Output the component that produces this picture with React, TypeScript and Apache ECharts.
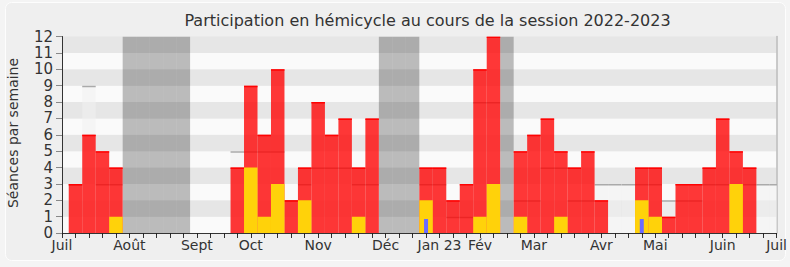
import React, { useEffect, useRef } from "react";
import * as echarts from "echarts";

// Week indices 0..53 (Juil 2022 -> Juil 2023)
const presence = [0, 3, 6, 5, 4, 0, 0, 0, 0, 0, 0, 0, 0, 4, 9, 6, 10, 2, 4, 8, 6, 7, 4, 7, 0, 0, 0, 4, 4, 2, 3, 10, 12, 0, 5, 6, 7, 5, 4, 5, 2, 0, 0, 4, 4, 1, 3, 3, 4, 7, 5, 4, 0, 0];
const interventions = [0, 0, 0, 0, 1, 0, 0, 0, 0, 0, 0, 0, 0, 0, 4, 1, 3, 0, 2, 0, 0, 0, 1, 0, 0, 0, 0, 2, 0, 0, 0, 1, 3, 0, 1, 0, 0, 1, 0, 0, 0, 0, 0, 2, 1, 0, 0, 0, 0, 0, 3, 0, 0, 0];
const questions = [0, 0, 0, 0, 0, 0, 0, 0, 0, 0, 0, 0, 0, 0, 0, 0, 0, 0, 0, 0, 0, 0, 0, 0, 0, 0, 0, 0.85, 0, 0, 0, 0, 0, 0, 0, 0, 0, 0, 0, 0, 0, 0, 0, 0.85, 0, 0, 0, 0, 0, 0, 0, 0, 0, 0];
const medianPresence = [0, 3, 9, 3, 3, 0, 0, 0, 0, 0, 0, 0, 0, 5, 5, 5, 5, 2, 3, 4, 4, 4, 3, 3, 0, 0, 0, 3, 3, 1, 1, 8, 8, 0, 2, 2, 4, 4, 2, 2, 3, 3, 3, 3, 3, 2, 2, 2, 3, 3, 3, 3, 3, 3];
const vacationWeeks = [5, 6, 7, 8, 9, 24, 25, 26, 33];
const vacationHeight = 12;
const monthLabels = ["Juil", "Août", "Sept", "Oct", "Nov", "Déc", "Jan 23", "Fév", "Mar", "Avr", "Mai", "Juin", "Juil"];
const monthLabelWeeks = [0, 5, 10, 14, 19, 24, 28, 31, 35, 40, 44, 49, 53];
const yTicks = [0, 12, 1]; // min, max, interval

const TITLE = "Participation en hémicycle au cours de la session 2022-2023";
const Y_NAME = "Séances par semaine";
const FONT = "DejaVu Sans";

const weeks = presence.map((_, i) => String(i));

function makeRender(fill: string, topLine: string | null, fixedWidth: number | null) {
  return (params: any, api: any) => {
    const i = api.value(0);
    const v = api.value(1);
    if (!v) return null;
    const base = api.coord([i, 0]);
    const top = api.coord([i, v]);
    const bw = api.size([1, 0])[0];
    const w = fixedWidth ?? bw;
    const x = base[0] - w / 2;
    const children: any[] = [
      {
        type: "rect",
        shape: { x, y: top[1], width: w, height: base[1] - top[1] },
        style: { fill },
      },
    ];
    if (topLine) {
      children.push({
        type: "line",
        shape: { x1: x, y1: top[1] + 0.75, x2: x + w, y2: top[1] + 0.75 },
        style: { stroke: topLine, lineWidth: 1.5 },
      });
    }
    return { type: "group", children };
  };
}

export default function App() {
  const ref = useRef<HTMLDivElement>(null);
  useEffect(() => {
    if (!ref.current) return;
    const chart = echarts.init(ref.current, undefined, { renderer: "svg" });
    const toData = (arr: number[]) => arr.map((v, i) => [i, v]);
    const vacData = weeks.map((_, i) => [i, vacationWeeks.includes(i) ? vacationHeight : 0]);
    chart.setOption({
      animation: false,
      backgroundColor: "#f4f4f4",
      textStyle: { fontFamily: FONT },
      graphic: [
        {
          type: "rect",
          z: -10,
          silent: true,
          shape: { x: 5.5, y: 2.5, width: 780, height: 258, r: 6 },
          style: { fill: "#efefef", stroke: "#fdfdfd", lineWidth: 1 },
        },
        {
          type: "text",
          x: 427.5,
          y: 20,
          style: {
            text: TITLE,
            fontFamily: FONT,
            fontSize: 16,
            fill: "#333",
            align: "center",
            verticalAlign: "middle",
          },
        },
        {
          type: "text",
          x: 13,
          y: 133,
          rotation: Math.PI / 2,
          style: {
            text: Y_NAME,
            fontFamily: FONT,
            fontSize: 14,
            fill: "#333",
            align: "center",
            verticalAlign: "middle",
          },
        },
      ],
      grid: { left: 62, right: 10, top: 36.5, bottom: 34 },
      xAxis: [
        {
          type: "category",
          data: weeks,
          boundaryGap: false,
          axisLine: { show: true, lineStyle: { color: "#333", width: 1 } },
          axisTick: { show: true, interval: 0, length: 5, lineStyle: { color: "#333" } },
          axisLabel: {
            interval: 0,
            margin: 5,
            fontSize: 14,
            color: "#333",
            fontFamily: FONT,
            formatter: (_: string, idx: number) => {
              const k = monthLabelWeeks.indexOf(idx);
              return k >= 0 ? monthLabels[k] : "";
            },
          },
          splitLine: { show: false },
        },
        {
          type: "category",
          data: weeks,
          position: "top",
          boundaryGap: false,
          axisLine: { show: false },
          axisTick: { show: true, inside: true, interval: 0, length: 2, lineStyle: { color: "#222" } },
          axisLabel: { show: false },
        },
      ],
      yAxis: [
        {
          type: "value",
          min: yTicks[0],
          max: yTicks[1],
          interval: yTicks[2],
          axisLine: { show: true, lineStyle: { color: "#333", width: 1 } },
          axisTick: { show: true, length: 6, lineStyle: { color: "#888" } },
          axisLabel: { margin: 9, fontSize: 15, lineHeight: 15, color: "#333", fontFamily: FONT },
          splitLine: { show: false },
          splitArea: { show: true, areaStyle: { color: ["#fafafa", "#e6e6e6"] } },
        },
        {
          type: "value",
          position: "right",
          min: yTicks[0],
          max: yTicks[1],
          interval: yTicks[2],
          axisLine: { show: true, lineStyle: { color: "#bbb", width: 1.5 } },
          axisTick: { show: false },
          axisLabel: { show: false },
          splitLine: { show: false },
        },
      ],
      series: [
        {
          type: "custom",
          name: "Vacances",
          clip: true,
          renderItem: makeRender("rgba(0,0,0,0.25)", null, null),
          data: vacData,
        },
        {
          type: "custom",
          name: "Présence médiane",
          clip: true,
          renderItem: makeRender("rgba(240,240,240,0.55)", "#aaaaaa", null),
          data: toData(medianPresence),
        },
        {
          type: "custom",
          name: "Présences",
          clip: true,
          renderItem: makeRender("rgba(255,0,0,0.78)", "rgba(255,0,0,0.95)", null),
          data: toData(presence),
        },
        {
          type: "custom",
          name: "Interventions",
          clip: true,
          renderItem: makeRender("#ffd20a", null, null),
          data: toData(interventions),
        },
        {
          type: "custom",
          name: "Questions orales",
          clip: true,
          renderItem: makeRender("#6b6bff", null, 4),
          data: toData(questions),
        },
      ],
    });
    return () => chart.dispose();
  }, []);
  return (
    <div
      ref={ref}
      style={{ position: "fixed", left: 0, top: 0, width: 790, height: 267 }}
    />
  );
}
